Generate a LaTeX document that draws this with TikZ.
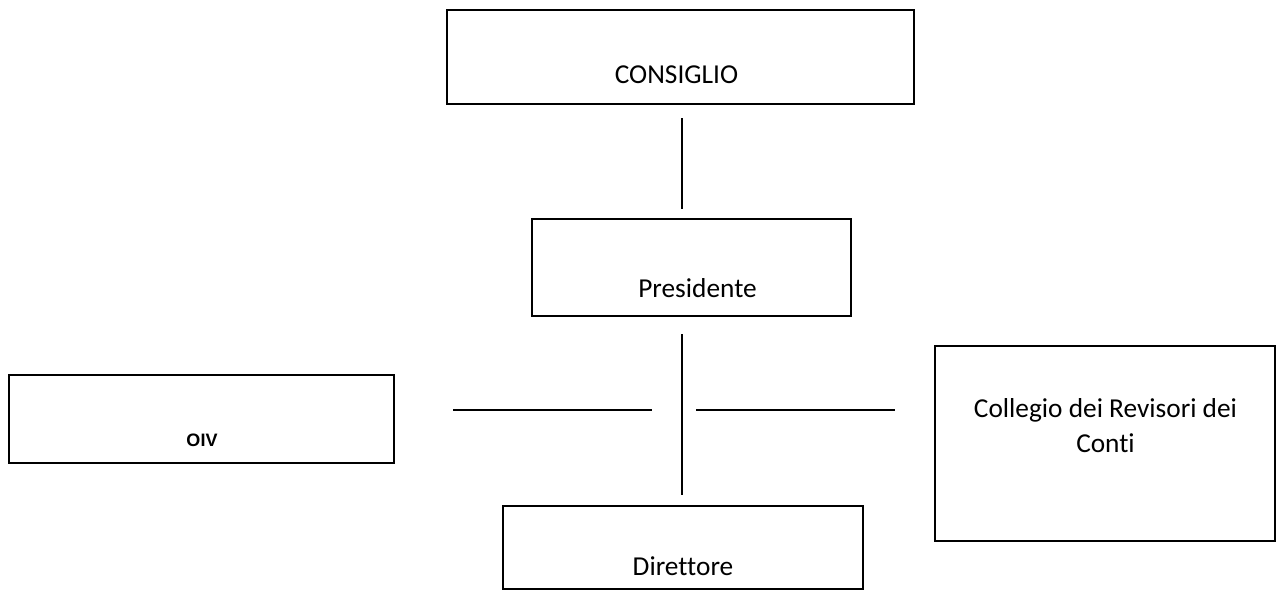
\documentclass[tikz,border=0pt]{standalone}
\usepackage{fontspec}
\setmainfont{Carlito}[Ligatures={NoCommon}]
\newfontfamily\oivfont{Liberation Sans}
\tikzset{
  box/.style={draw, line width=1.5pt, inner sep=0pt},
  txt/.style={anchor=base, inner sep=0pt, font=\fontsize{20.5}{26.25}\selectfont},
  link/.style={line width=1.5pt}
}
\begin{document}
\begin{tikzpicture}[x=0.75pt, y=-0.75pt]
  \clip (0,0) rectangle (1276,590);
%Kaesten
  \node[box, minimum width=467*0.75pt, minimum height=94*0.75pt]
    (consiglio) at (680.5,57) {};
  \node[box, minimum width=319*0.75pt, minimum height=97*0.75pt]
    (presidente) at (691.5,267.5) {};
  \node[box, minimum width=385*0.75pt, minimum height=88*0.75pt]
    (oiv) at (201.5,419) {};
  \node[box, minimum width=340*0.75pt, minimum height=195*0.75pt]
    (collegio) at (1105,443.5) {};
  \node[box, minimum width=360*0.75pt, minimum height=83*0.75pt]
    (direttore) at (683,547.5) {};
%Beschriftung
  \node[txt] (tconsiglio) at (676.5,83) {CONSIGLIO};
  \node[txt] (tpresidente) at (697.5,297) {Presidente};
  \node[txt, font=\oivfont\bfseries\fontsize{13.5}{16}\selectfont]
    (toiv) at (202,446) {OIV};
  \node[txt, align=center] (tcollegio) at (1105.5,452)
    {Collegio dei Revisori dei\\Conti};
  \node[txt] (tdirettore) at (683,575) {Direttore};
%Linien
  \coordinate (a1) at (682,118);
  \coordinate (a2) at (682,209);
  \coordinate (b1) at (682,334);
  \coordinate (b2) at (682,495);
  \coordinate (l1) at (453,410);
  \coordinate (l2) at (652,410);
  \coordinate (r1) at (696,410);
  \coordinate (r2) at (895,410);
  \draw[link] (a1) -- (a2);
  \draw[link] (b1) -- (b2);
  \draw[link] (l1) -- (l2);
  \draw[link] (r1) -- (r2);
\end{tikzpicture}
\end{document}
